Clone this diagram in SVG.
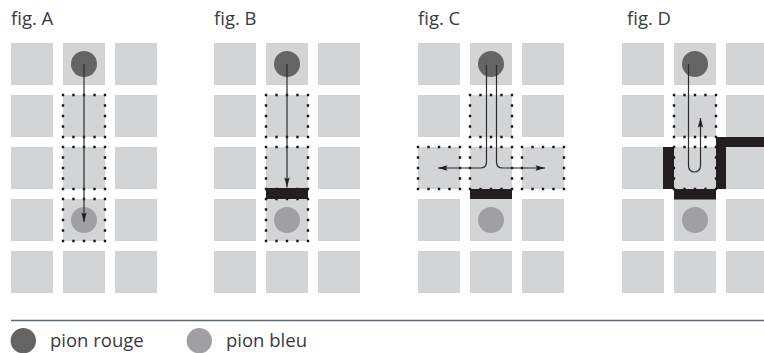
<svg xmlns="http://www.w3.org/2000/svg" width="764" height="353" viewBox="0 0 764 353">
  <style>
    .cell { fill: #d3d4d6; }
    .zone { fill: none; stroke: #1a1718; stroke-width: 2.4; stroke-dasharray: 0 10.5; stroke-linecap: square; }
    .wall { fill: #231f20; }
    .red { fill: #646464; }
    .blue { fill: #a0a0a2; }
    .title { font-family: "Open Sans", "Liberation Sans", sans-serif; font-size: 18.5px; fill: #3a3a3a; }
    .legend { font-family: "Open Sans", "Liberation Sans", sans-serif; font-size: 18.5px; fill: #3a3a3a; }
    .path { fill: none; stroke: #2b2b2b; stroke-width: 1.2; }
  </style>
  <defs>
    <marker id="head" markerUnits="userSpaceOnUse" markerWidth="10" markerHeight="6" refX="9.5" refY="3" orient="auto" overflow="visible">
      <path d="M0,0.3 L9.5,3 L0,5.7 L1.5,3 z" fill="#231f20"/>
    </marker>
    <g id="board">
      <rect class="cell" x="0" y="43" width="42" height="42"/>
      <rect class="cell" x="52" y="43" width="42" height="42"/>
      <rect class="cell" x="104" y="43" width="42" height="42"/>
      <rect class="cell" x="0" y="95" width="42" height="42"/>
      <rect class="cell" x="52" y="95" width="42" height="42"/>
      <rect class="cell" x="104" y="95" width="42" height="42"/>
      <rect class="cell" x="0" y="147" width="42" height="42"/>
      <rect class="cell" x="52" y="147" width="42" height="42"/>
      <rect class="cell" x="104" y="147" width="42" height="42"/>
      <rect class="cell" x="0" y="199" width="42" height="42"/>
      <rect class="cell" x="52" y="199" width="42" height="42"/>
      <rect class="cell" x="104" y="199" width="42" height="42"/>
      <rect class="cell" x="0" y="251" width="42" height="42"/>
      <rect class="cell" x="52" y="251" width="42" height="42"/>
      <rect class="cell" x="104" y="251" width="42" height="42"/>
    </g>
  </defs>

  <!-- fig. A : straight move down to the blue pawn -->
  <g id="figA">
    <text class="title" x="11" y="25">fig. A</text>
    <use href="#board" x="11"/>
    <rect class="zone" x="63" y="95" width="42" height="42"/>
    <rect class="zone" x="63" y="147" width="42" height="42"/>
    <rect class="zone" x="63" y="199" width="42" height="42"/>
    <circle class="red" cx="84" cy="64" r="13"/>
    <circle class="blue" cx="84" cy="220" r="13"/>
  </g>

  <!-- fig. B : wall in front of the blue pawn -->
  <g id="figB">
    <text class="title" x="214" y="25">fig. B</text>
    <use href="#board" x="214"/>
    <rect class="zone" x="266" y="95" width="42" height="42"/>
    <rect class="zone" x="266" y="147" width="42" height="42"/>
    <rect class="zone" x="266" y="199" width="42" height="42"/>
    <rect class="wall" x="266" y="188" width="42" height="11"/>
    <circle class="red" cx="287" cy="64" r="13"/>
    <circle class="blue" cx="287" cy="220" r="13"/>
  </g>

  <!-- fig. C : blocked, turn left or right -->
  <g id="figC">
    <text class="title" x="418" y="25">fig. C</text>
    <use href="#board" x="418"/>
    <rect class="zone" x="470" y="95" width="42" height="42"/>
    <rect class="zone" x="470" y="147" width="42" height="42"/>
    <rect class="zone" x="418" y="147" width="42" height="42"/>
    <rect class="zone" x="522" y="147" width="42" height="42"/>
    <rect class="wall" x="470" y="189" width="42" height="10"/>
    <circle class="red" cx="491" cy="64" r="13"/>
    <circle class="blue" cx="491" cy="220" r="13"/>
  </g>

  <!-- fig. D : dead end, move back -->
  <g id="figD">
    <text class="title" x="627" y="25">fig. D</text>
    <use href="#board" x="622"/>
    <rect class="wall" x="663" y="147" width="11" height="42"/>
    <rect class="wall" x="674" y="189" width="42" height="10.5"/>
    <rect class="wall" x="716" y="137" width="10" height="52"/>
    <rect class="wall" x="716" y="137" width="48" height="10"/>
    <rect class="zone" x="674" y="95" width="42" height="42"/>
    <rect class="zone" x="674" y="147" width="42" height="42"/>
    <circle class="red" cx="695" cy="64" r="13"/>
    <circle class="blue" cx="695" cy="220" r="13"/>
  </g>

  <!-- movement arrows -->
  <g id="connectors">
    <path class="path" d="M84,64 V222" marker-end="url(#head)"/>
    <path class="path" d="M287,64 V187" marker-end="url(#head)"/>
    <path class="path" d="M486.5,65 V162 Q486.5,168 480.5,168 H438" marker-end="url(#head)"/>
    <path class="path" d="M496.5,65 V162 Q496.5,168 502.5,168 H545" marker-end="url(#head)"/>
    <path class="path" d="M688.5,64 V166 A6,6 0 0 0 700.5,166 V118" marker-end="url(#head)"/>
  </g>

  <!-- legend -->
  <g id="legend">
    <line x1="11" y1="320.5" x2="764" y2="320.5" stroke="#5e6a74" stroke-width="1.5"/>
    <circle class="red" cx="23.3" cy="340.7" r="12.7"/>
    <text class="legend" x="50" y="346.5">pion rouge</text>
    <circle class="blue" cx="199.3" cy="340.7" r="12.7"/>
    <text class="legend" x="226" y="346.5">pion bleu</text>
  </g>
</svg>
